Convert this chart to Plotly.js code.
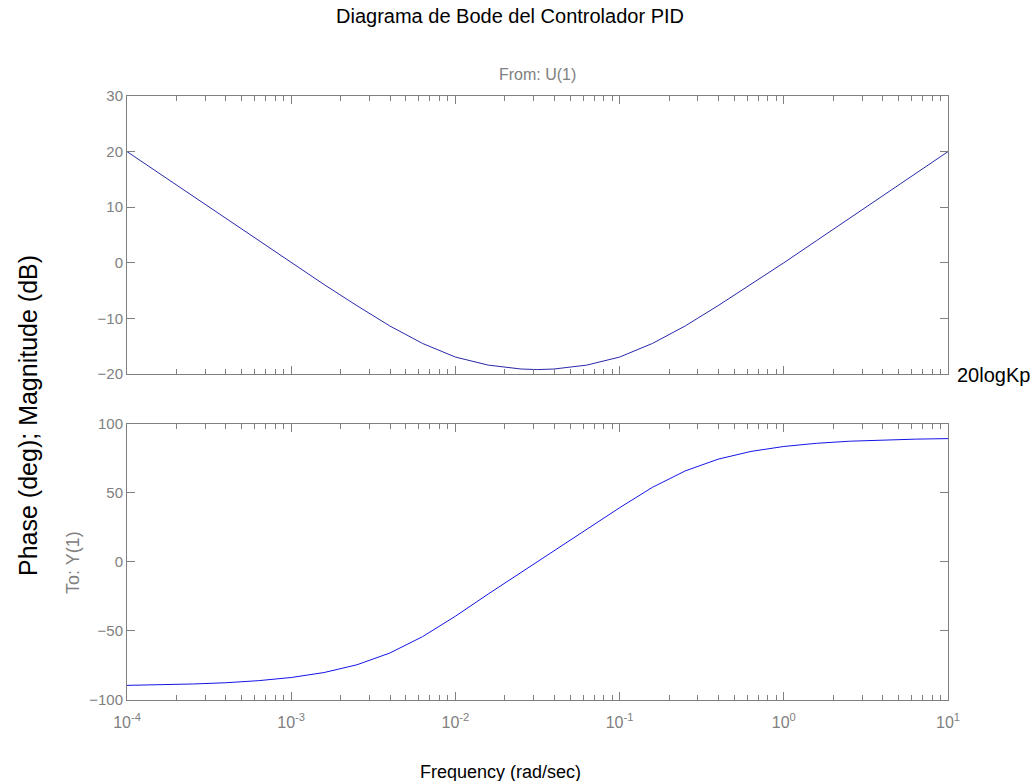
<!DOCTYPE html>
<html>
<head>
<meta charset="utf-8">
<script src="https://cdn.plot.ly/plotly-3.0.1.min.js"></script>
<style>html,body{margin:0;padding:0;background:#fff;}#chart{width:1030px;height:781px;}</style>
</head>
<body>
<div id="chart"></div>
<script>
// Frequency samples (rad/sec)
var freq = [1e-4, 1.585e-4, 2.512e-4, 3.981e-4, 6.31e-4, 1e-3, 1.585e-3, 2.512e-3, 3.981e-3, 6.31e-3,
            1e-2, 1.585e-2, 2.512e-2, 3.162e-2, 3.981e-2, 6.31e-2, 0.1, 0.1585, 0.2512, 0.3981, 0.631,
            1, 1.585, 2.512, 3.981, 6.31, 10];
// Magnitude (dB)
var magnitude = [20.0, 16.0, 12.0, 8.0, 4.0, 0.0, -3.9, -7.7, -11.35, -14.5,
                 -16.95, -18.4, -19.1, -19.2, -19.1, -18.4, -16.95, -14.5, -11.35, -7.7, -3.9,
                 0.0, 4.0, 8.0, 12.0, 16.0, 20.0];
// Phase (deg)
var phase = [-89.4, -89.0, -88.4, -87.5, -86.0, -83.7, -80.1, -74.5, -66.0, -54.1,
             -39.3, -23.2, -7.6, 0.0, 7.6, 23.2, 39.3, 54.1, 66.0, 74.5, 80.1,
             83.7, 86.0, 87.5, 88.4, 89.0, 89.4];
var xTickVals = [1e-4, 1e-3, 1e-2, 1e-1, 1, 10];
var xTickText = ['10<sup>-4</sup>', '10<sup>-3</sup>', '10<sup>-2</sup>', '10<sup>-1</sup>', '10<sup>0</sup>', '10<sup>1</sup>'];
var magTicks = [-20, -10, 0, 10, 20, 30];
var phaseTicks = [-100, -50, 0, 50, 100];

var minorVals = [];
for (var e = -4; e < 1; e++) {
  for (var m = 2; m <= 9; m++) minorVals.push(m * Math.pow(10, e));
}

var gray = '#808080';
var fnt = 'Liberation Sans, Arial, sans-serif';

function xaxisCfg(showLabels, anchor) {
  return {
    type: 'log', range: [-4, 1], anchor: anchor,
    tickmode: 'array', tickvals: xTickVals, ticktext: xTickText, showticklabels: showLabels,
    ticks: 'inside', ticklen: 8, tickcolor: gray, tickwidth: 1,
    ticklabelstandoff: 8,
    minor: {tickmode: 'array', tickvals: minorVals, ticks: 'inside', ticklen: 5, tickcolor: gray, showgrid: false},
    showline: true, linecolor: gray, linewidth: 1, mirror: 'ticks',
    showgrid: false, zeroline: false,
    tickfont: {family: fnt, size: 16, color: gray}
  };
}
function yaxisCfg(range, ticks, domain, anchor) {
  return {
    range: range, domain: domain, anchor: anchor,
    tickmode: 'array', tickvals: ticks,
    ticks: 'inside', ticklen: 8, tickcolor: gray, tickwidth: 1,
    showline: true, linecolor: gray, linewidth: 1, mirror: 'ticks',
    showgrid: false, zeroline: false,
    tickfont: {family: fnt, size: 15, color: gray}
  };
}

var traces = [
  {x: freq, y: magnitude, xaxis: 'x', yaxis: 'y', mode: 'lines', line: {color: 'rgb(40,40,170)', width: 1}, hoverinfo: 'x+y'},
  {x: freq, y: phase, xaxis: 'x2', yaxis: 'y2', mode: 'lines', line: {color: 'rgb(20,20,230)', width: 1}, hoverinfo: 'x+y'}
];

var layout = {
  width: 1030, height: 781,
  margin: {l: 127, r: 82, t: 96, b: 81},
  paper_bgcolor: '#fff', plot_bgcolor: '#fff',
  showlegend: false,
  font: {family: fnt},
  title: {text: 'Diagrama de Bode del Controlador PID', x: 510/1030, xanchor: 'center', xref: 'container',
          y: 1 - 16/781, yanchor: 'middle', yref: 'container', font: {family: fnt, size: 20, color: '#000'}},
  xaxis: Object.assign(xaxisCfg(false, 'y'), {domain: [0, 1]}),
  yaxis: yaxisCfg([-20, 30], magTicks, [0.5397, 1], 'x'),
  xaxis2: Object.assign(xaxisCfg(true, 'y2'), {domain: [0, 1]}),
  yaxis2: yaxisCfg([-100, 100], phaseTicks, [0, 0.457], 'x2'),
  annotations: [
    {text: 'From: U(1)', xref: 'paper', yref: 'paper', x: 0.5, y: 1.0348, xanchor: 'center', yanchor: 'middle', showarrow: false,
     font: {family: fnt, size: 16, color: gray}},
    {text: 'To: Y(1)', xref: 'paper', yref: 'paper', x: -0.0658, y: 0.2285, xanchor: 'center', yanchor: 'middle', textangle: -90, showarrow: false,
     font: {family: fnt, size: 18, color: gray}},
    {text: 'Phase (deg); Magnitude (dB)', xref: 'paper', yref: 'paper', x: -0.1206, y: 0.4719, xanchor: 'center', yanchor: 'middle', textangle: -90, showarrow: false,
     font: {family: fnt, size: 25, color: '#000'}},
    {text: 'Frequency (rad/sec)', xref: 'paper', yref: 'paper', x: 0.4555, y: -0.1192, xanchor: 'center', yanchor: 'middle', showarrow: false,
     font: {family: fnt, size: 18, color: '#000'}},
    {text: '20logKp', xref: 'paper', yref: 'paper', x: 1.0085, y: 0.5381, xanchor: 'left', yanchor: 'middle', showarrow: false,
     font: {family: fnt, size: 20, color: '#000'}}
  ]
};

Plotly.newPlot('chart', traces, layout, {displayModeBar: false, staticPlot: true});
</script>
</body>
</html>
